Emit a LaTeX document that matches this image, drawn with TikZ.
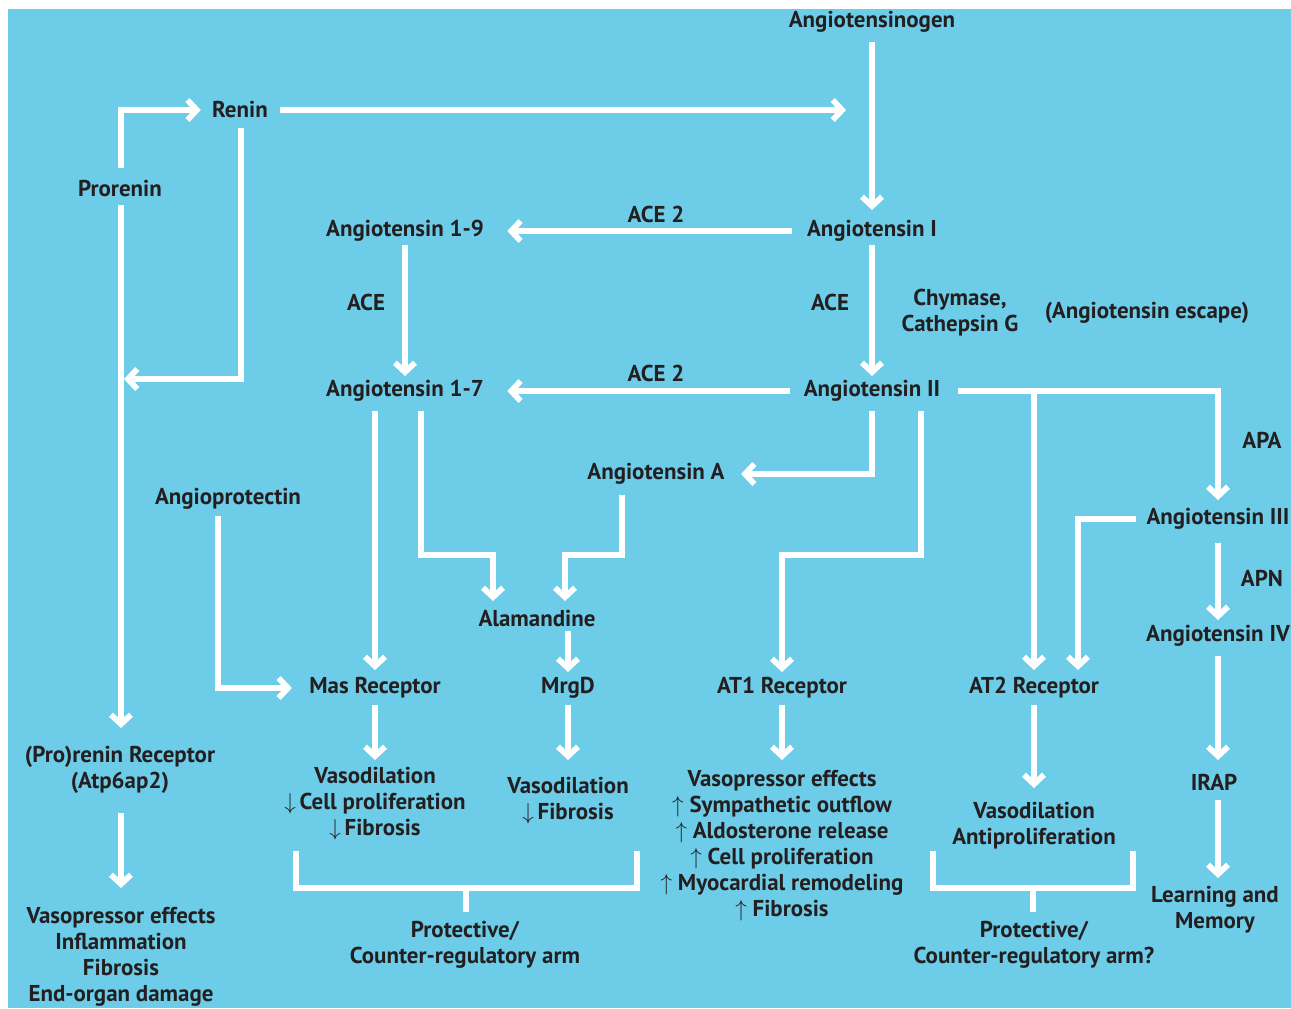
\documentclass[tikz,border=0pt]{standalone}
\usepackage{fontspec}
\setmainfont{PT Sans}
\usetikzlibrary{arrows.meta,calc}

\definecolor{raasblue}{RGB}{109,205,232}
\definecolor{raasink}{RGB}{35,31,32}

\tikzset{every picture/.style={line width=0.75pt}}
\tikzset{
  lbl/.style={inner sep=0pt, align=center, text=raasink, font=\fontsize{17.2}{19.5}\selectfont\bfseries},
  wire/.style={draw=white, line width=4.3pt},
  arr/.style={wire, -{Straight Barb[length=7pt,width=15pt]}},
}

\begin{document}
\begin{tikzpicture}[x=0.75pt,y=0.75pt,yscale=-1,xscale=1]
            %Background
            \fill [white] (0,0) rectangle (1291,1008);
            \fill [raasblue] (8,9) rectangle (1291,1008);
            \useasboundingbox (0,0) rectangle (1291,1008);

            % Text Node
            \draw (872,22) node [lbl] (agt) {Angiotensinogen};
            % Text Node
            \draw (240,110) node [lbl] (ren) {Renin};
            % Text Node
            \draw (120,188) node [lbl] (pro) {Prorenin};
            % Text Node
            \draw (405,231) node [lbl] (a19) {Angiotensin 1-9};
            % Text Node
            \draw (872,231) node [lbl] (a1) {Angiotensin I};
            % Text Node
            \draw (405,391) node [lbl] (a17) {Angiotensin 1-7};
            % Text Node
            \draw (872,391) node [lbl] (a2) {Angiotensin II};
            % Text Node
            \draw (656,474) node [lbl] (aa) {Angiotensin A};
            % Text Node
            \draw (228,499) node [lbl] (apt) {Angioprotectin};
            % Text Node
            \draw (1218,519) node [lbl] (a3) {Angiotensin III};
            % Text Node
            \draw (537,618) node [lbl] (ala) {Alamandine};
            % Text Node
            \draw (1218,636) node [lbl] (a4) {Angiotensin IV};
            % Text Node
            \draw (375,688) node [lbl] (mas) {Mas Receptor};
            % Text Node
            \draw (568,688) node [lbl] (mrg) {MrgD};
            % Text Node
            \draw (782,688) node [lbl] (at1) {AT1 Receptor};
            % Text Node
            \draw (1034,688) node [lbl] (at2) {AT2 Receptor};
            % Text Node
            \draw (120,770) node [lbl] (prr) {(Pro)renin Receptor\\(Atp6ap2)};
            % Text Node
            \draw (1214,782) node [lbl] (irap) {IRAP};
            % Text Node
            \draw (375,804) node [lbl] (effmas) {Vasodilation\\$\downarrow$\,Cell proliferation\\$\downarrow$\,Fibrosis};
            % Text Node
            \draw (568,801) node [lbl] (effmrg) {Vasodilation\\$\downarrow$\,Fibrosis};
            % Text Node
            \draw (782,846) node [lbl] (effat1) {Vasopressor effects\\$\uparrow$ Sympathetic outflow\\$\uparrow$ Aldosterone release\\$\uparrow$ Cell proliferation\\$\uparrow$ Myocardial remodeling\\$\uparrow$ Fibrosis};
            % Text Node
            \draw (1034,826) node [lbl] (effat2) {Vasodilation\\Antiproliferation};
            % Text Node
            \draw (1215,910) node [lbl] (learn) {Learning and\\Memory};
            % Text Node
            \draw (121,957) node [lbl] (effprr) {Vasopressor effects\\Inflammation\\Fibrosis\\End-organ damage};
            % Text Node
            \draw (465,945) node [lbl] (prot1) {Protective/\\Counter-regulatory arm};
            % Text Node
            \draw (1034,945) node [lbl] (prot2) {Protective/\\Counter-regulatory arm?};
            % Text Node
            \draw (656,214) node [lbl] (ace2a) {ACE 2};
            % Text Node
            \draw (656,373) node [lbl] (ace2b) {ACE 2};
            % Text Node
            \draw (366,302) node [lbl] (acea) {ACE};
            % Text Node
            \draw (830,302) node [lbl] (aceb) {ACE};
            % Text Node
            \draw (960,313) node [lbl] (chy) {Chymase,\\Cathepsin G};
            % Text Node
            \draw (1147,313) node [lbl] (esc) {(Angiotensin escape)};
            % Text Node
            \draw (1262,440) node [lbl] (apa) {APA};
            % Text Node
            \draw (1262,578) node [lbl] (apn) {APN};

            \coordinate (rtip) at (846,110);

            %Straight Lines
            \draw [arr] ($(pro)+(1,-20)$) |- ($(ren.west)+(-11,0)$);
            %Straight Lines
            \draw [arr] ($(pro)+(1,17)$) -- ($(prr)+(1,-42)$);
            %Straight Lines
            \draw [arr] ($(ren)+(1,18)$) |- ($(pro)+(4,191)$);
            %Straight Lines
            \draw [arr] ($(ren.east)+(12,0)$) -- (rtip);
            %Straight Lines
            \draw [arr] ($(agt)+(0,20)$) -- ($(a1)+(0,-21)$);
            %Straight Lines
            \draw [arr] ($(a1.west)+(-15,0)$) -- ($(a19.east)+(23,0)$);
            %Straight Lines
            \draw [arr] ($(a1)+(0,14)$) -- ($(a2)+(0,-15)$);
            %Straight Lines
            \draw [arr] ($(a19)+(0,14)$) -- ($(a17)+(0,-15)$);
            %Straight Lines
            \draw [arr] ($(a2.west)+(-13,0)$) -- ($(a17.east)+(23,0)$);
            %Straight Lines
            \draw [arr] ($(a2.east)+(17,0)$) -| ($(a3)+(0,-19)$);
            %Straight Lines
            \draw [arr] (a2.east -| at2) -- ($(at2)+(0,-18)$);
            %Straight Lines
            \draw [arr] ($(a3.west)+(-10,0)$) -| ($(at2)+(44,-18)$);
            %Straight Lines
            \draw [arr] ($(a3)+(0,24)$) -- ($(a4)+(0,-16)$);
            %Straight Lines
            \draw [arr] ($(a4)+(0,20)$) -- ($(irap)+(4,-22)$);
            %Straight Lines
            \draw [arr] ($(irap)+(4,18)$) -- ($(learn)+(3,-32)$);
            %Straight Lines
            \draw [arr] ($(a2)+(0,20)$) |- ($(aa.east)+(16,0)$);
            %Straight Lines
            \draw [arr] ($(a2)+(49,20)$) -- ++(0,144) -| ($(at1)+(0,-16)$);
            %Straight Lines
            \draw [arr] ($(a17)+(-30,20)$) -- ($(mas)+(0,-18)$);
            %Straight Lines
            \draw [arr] ($(a17)+(16,20)$) -- ++(0,144) -| ($(ala)+(-44,-17)$);
            %Straight Lines
            \draw [arr] ($(aa)+(-34,21)$) -- ++(0,60) -| ($(ala)+(28,-17)$);
            %Straight Lines
            \draw [arr] ($(ala)+(31,13)$) -- ($(mrg)+(0,-16)$);
            %Straight Lines
            \draw [arr] ($(apt)+(-10,17)$) |- ($(mas.west)+(-17,0)$);
            %Straight Lines
            \draw [arr] ($(mas)+(0,17)$) -- ($(effmas)+(0,-44)$);
            %Straight Lines
            \draw [arr] ($(mrg)+(0,17)$) -- ($(effmrg)+(0,-41)$);
            %Straight Lines
            \draw [arr] ($(at1)+(0,17)$) -- ($(effat1)+(0,-86)$);
            %Straight Lines
            \draw [arr] ($(at2)+(0,17)$) -- ($(effat2)+(0,-38)$);
            %Straight Lines
            \draw [arr] ($(prr)+(1,43)$) -- ($(effprr)+(0,-69)$);

            %Shape: Bracket
            \draw [wire] ($(prot1)+(-169,-94)$) -- ++(0,37) -- ++(341,0) -- ++(0,-37);
            \draw [wire] ($(prot1)+(1,-57)$) -- ++(0,24);
            %Shape: Bracket
            \draw [wire] ($(prot2)+(-101,-94)$) -- ++(0,37) -- ++(200,0) -- ++(0,-37);
            \draw [wire] ($(prot2)+(-1,-57)$) -- ++(0,24);

        \end{tikzpicture}
\end{document}
